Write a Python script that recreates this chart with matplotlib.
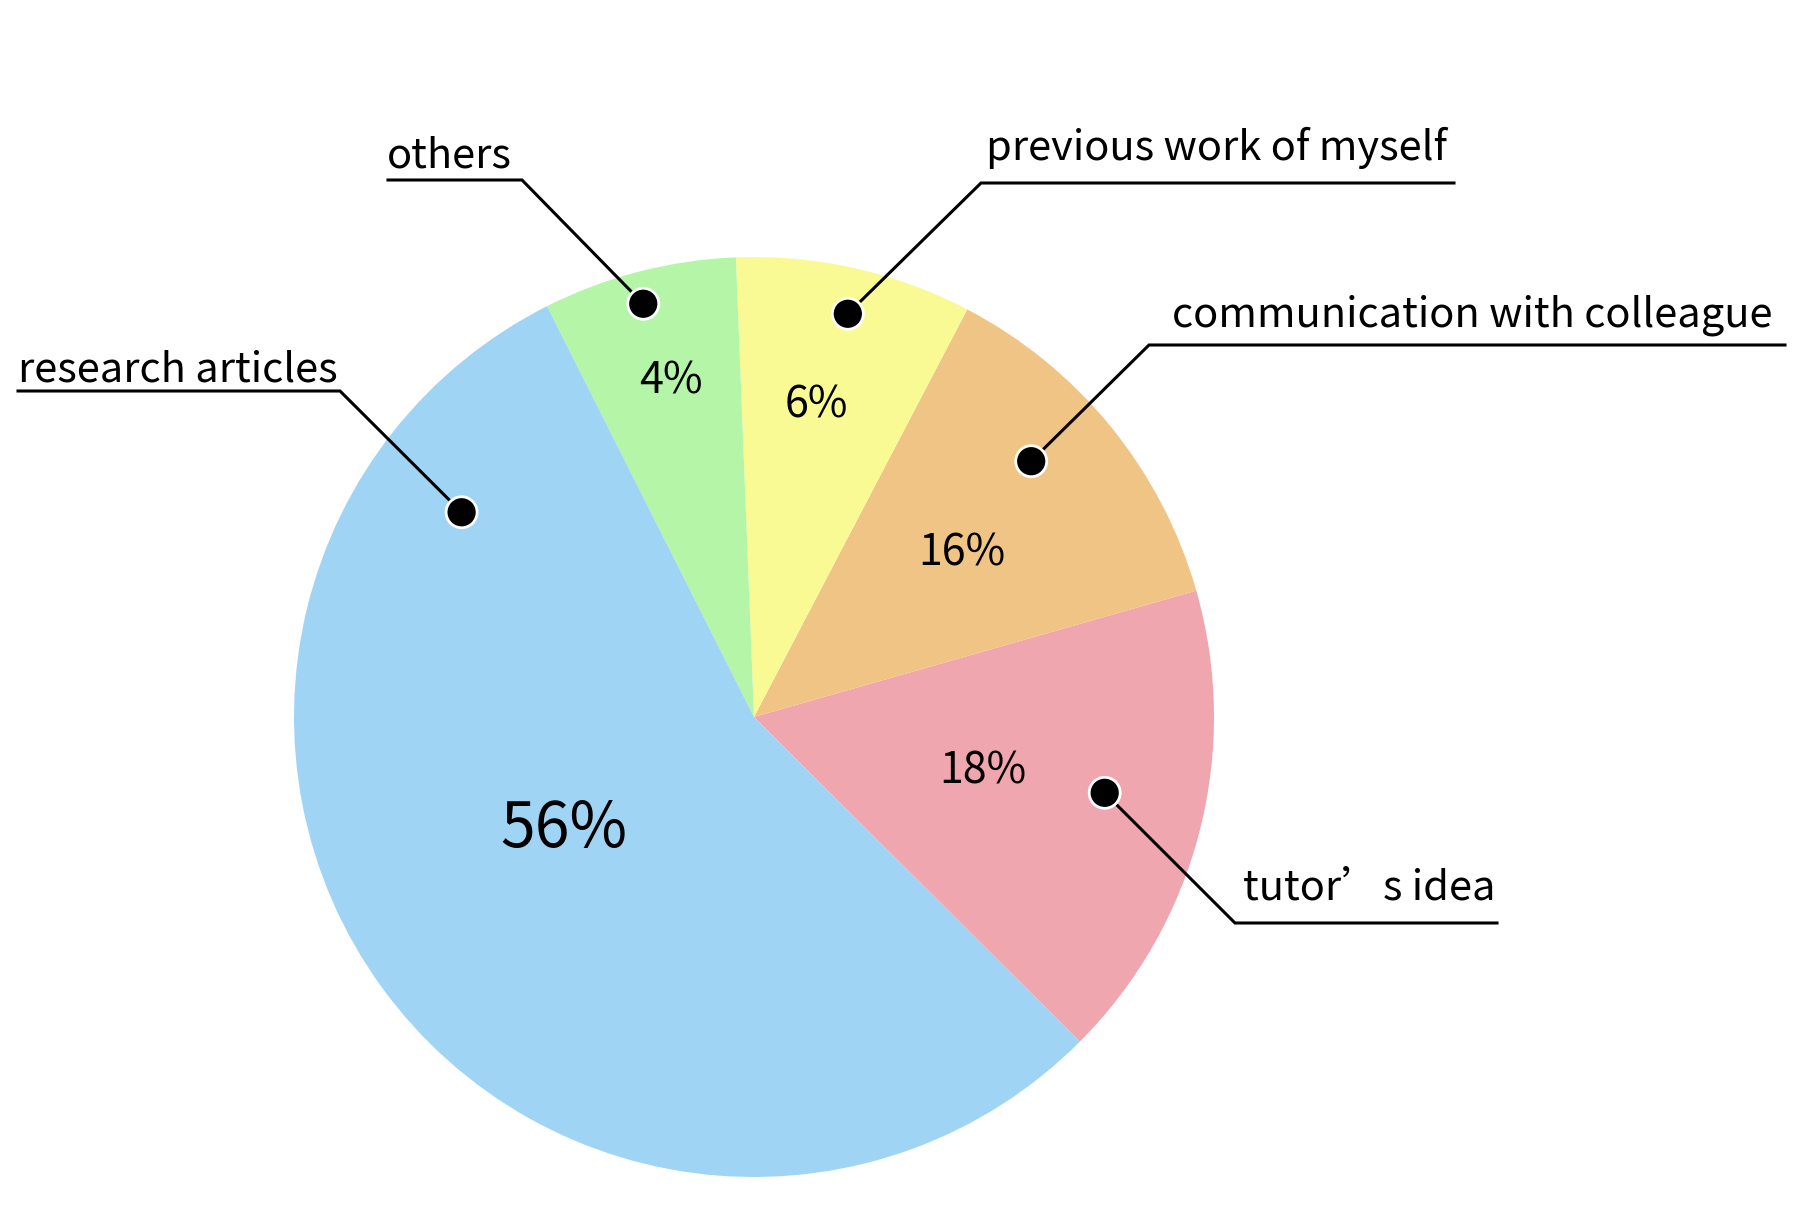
import numpy as np
import matplotlib.pyplot as plt
from matplotlib.patches import Circle

plt.rcParams['font.family'] = ['Noto Sans CJK SC', 'DejaVu Sans']

W, H = 1814, 1228  # pixel canvas, dpi 100

# wedge order: counterclockwise starting from the lower right
labels = ['tutor’s idea', 'communication with colleague', 'previous work of myself',
          'others', 'research articles']
pct_labels = ['18%', '16%', '6%', '4%', '56%']
sizes = [16.9, 12.9, 8.3, 6.8, 55.1]  # wedge shares as drawn
colors = ['#EFA6AE', '#F0C484', '#FAFA95', '#B5F5A8', '#A0D4F4']

# layout (pixels, y from top)
cx, cy, R = 754, 717, 460
pct_ang = [-12.5, 39.0, 78.9, 103.7, 209.5]
pct_r = [0.51, 0.58, 0.70, 0.76, 0.476]
pct_size = [31, 31, 31, 31, 45]
dot_ang = [-12.2, 42.7, 76.9, 105.0, 145.0]
dot_r = [0.78, 0.82, 0.90, 0.93, 0.776]
elbows = [(1235, 923), (1149, 345), (981, 183), (522, 180), (340, 391)]
line_end = [1497, 1785, 1454, 388, 18]
text_pos = [(1243, 900), (1172, 326), (986, 160), (387, 167), (18, 382)]

fig = plt.figure(figsize=(W / 100, H / 100), dpi=100)
ax = fig.add_axes([0, 0, 1, 1])

wedges, _ = ax.pie(sizes, colors=colors, startangle=-44.9, counterclock=True,
                   radius=R, center=(cx, H - cy), wedgeprops=dict(linewidth=0))

for t, a, r, fs in zip(pct_labels, pct_ang, pct_r, pct_size):
    th = np.deg2rad(a)
    ax.text(cx + r * R * np.cos(th), H - cy + r * R * np.sin(th) - 4, t,
            ha='center', va='center', fontsize=fs, color='black')

for lab, a, r, (ex, ey), le, (tx, ty) in zip(labels, dot_ang, dot_r, elbows, line_end, text_pos):
    dx = cx + r * R * np.cos(np.deg2rad(a))
    dy = H - cy + r * R * np.sin(np.deg2rad(a))
    ax.plot([dx, ex, le], [dy, H - ey, H - ey], color='black', lw=2.2,
            solid_joinstyle='miter', zorder=3)
    ax.add_patch(Circle((dx, dy), 15.5, fc='black', ec='white', lw=2, zorder=4))
    ax.text(tx, H - ty, lab, ha='left', va='baseline', fontsize=30, color='black')

ax.set_xlim(0, W)
ax.set_ylim(0, H)
ax.set_aspect('auto')
ax.axis('off')

fig.savefig('out.png', dpi=100, facecolor='white')
